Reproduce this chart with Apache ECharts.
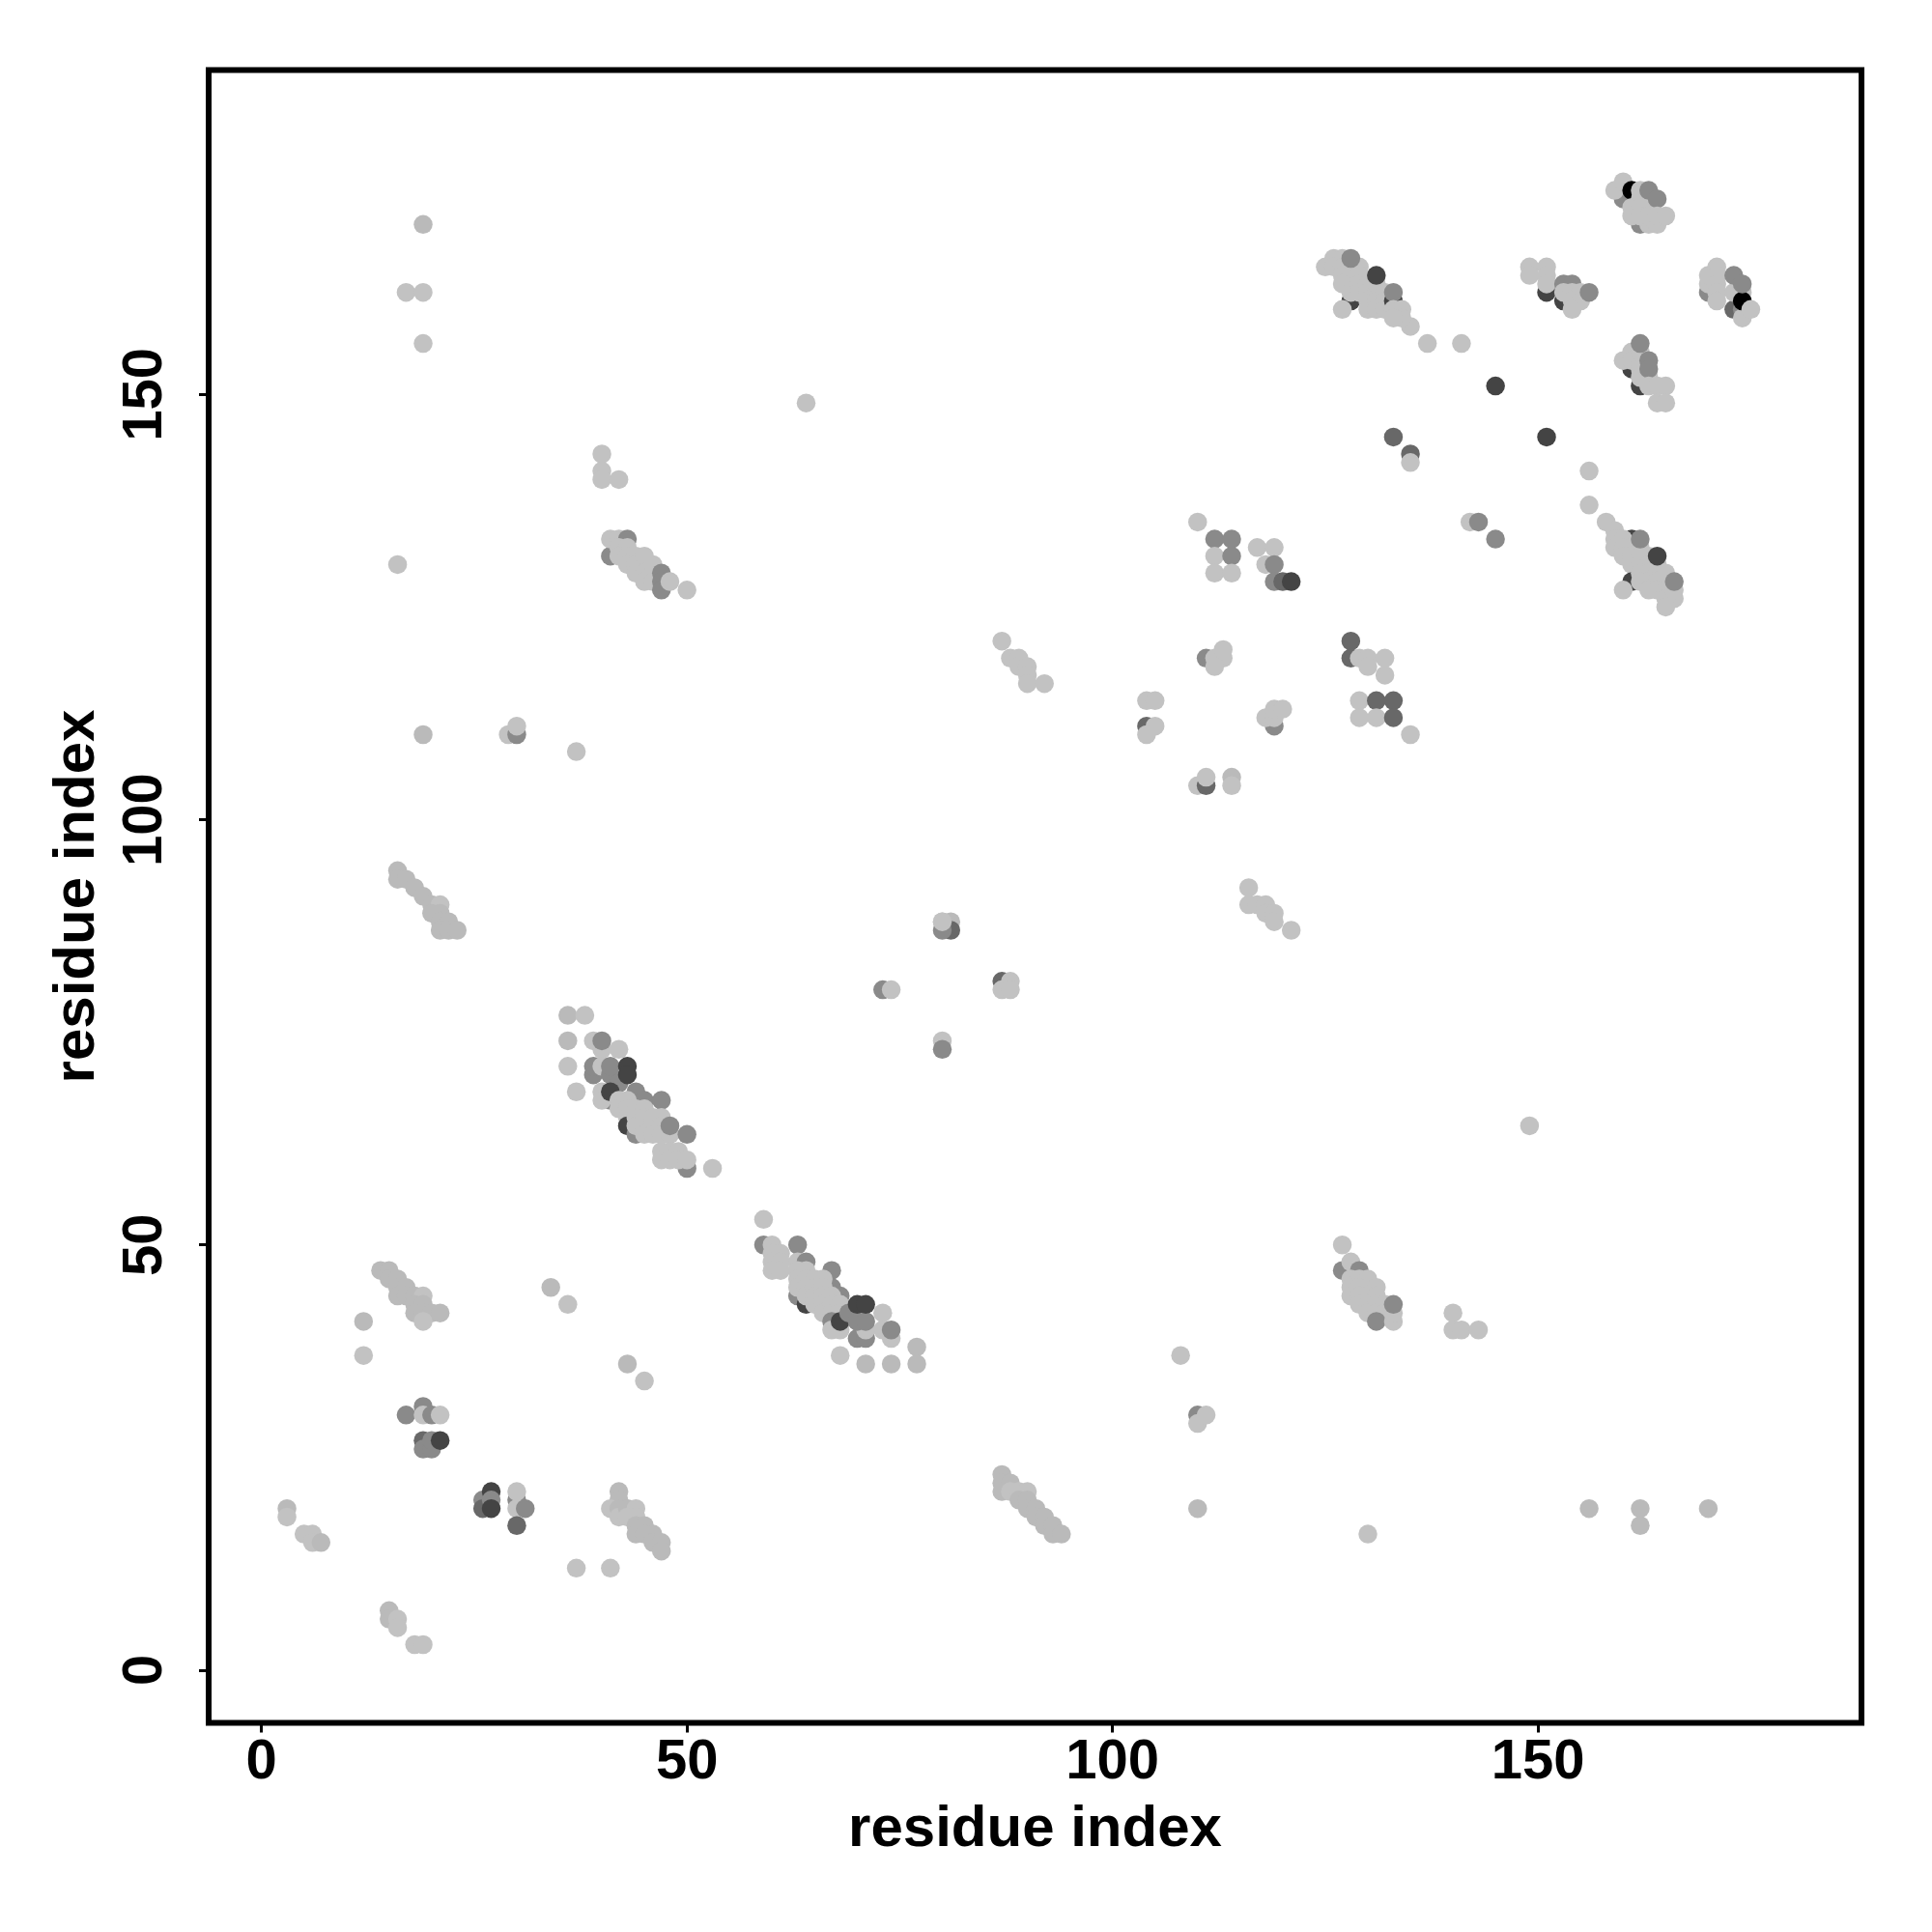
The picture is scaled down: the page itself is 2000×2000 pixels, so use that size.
<!DOCTYPE html>
<html><head><meta charset="utf-8">
<style>html,body{margin:0;padding:0;background:#fff}#c{width:2000px;height:2000px}</style>
<script src="https://cdn.jsdelivr.net/npm/echarts@6/dist/echarts.min.js"></script>
</head><body><div id="c"></div>
<script>
const tickValues = [0, 50, 100, 150];
const axisTitle = "residue index";
// each point: [residue x, residue y, grey level]
const L = 194, K = 186, M = 138, D = 104, E = 68, B = 0;
const lowerLeft = [[15,7,K],[15,6,K],[16,6,L],[16,5,L],[18,3,L],[19,3,L],[37,12,L],[41,12,L],
 [3,19,K],[3,18,L],[5,16,L],[6,16,L],[6,15,L],[7,15,K],
 [26,20,M],[26,19,D],[27,21,E],[27,20,M],[27,19,E],[30,20,M],[30,19,L],[31,19,M],[30,21,L],[30,17,D],
 [17,30,M],[19,31,M],[19,30,L],[20,30,M],[21,30,L],[19,27,D],[19,26,M],[20,26,M],[20,27,M],[21,27,E],
 [14,47,K],[15,47,K],[15,46,K],[16,46,K],[16,45,K],[17,45,K],[16,44,K],[17,44,K],[18,44,K],[19,44,L],[18,43,K],[19,43,K],[18,42,K],[19,42,K],[20,42,K],[21,42,K],[19,41,L],
 [12,41,K],[12,37,L],[34,45,K],[36,43,L],[43,36,K],[45,34,L],
 [42,21,K],[42,20,K],[41,19,L],[42,19,K],[42,18,L],[43,19,K],[44,19,L],[44,18,L],[43,18,L],[44,17,K],[45,17,K],[44,16,K],[45,16,K],[46,16,K],[46,15,K],[47,15,K],[47,14,K],
 [87,23,K],[87,22,K],[87,21,K],[88,22,K],[88,21,L],[89,21,L],[90,21,L],[89,20,K],[90,20,K],[90,19,K],[91,19,K],[91,18,K],[92,18,K],[92,17,K],[93,17,K],[93,16,K],[94,16,K],
 [108,37,L],[110,30,M],[110,29,L],[111,30,L],[110,19,K],[156,19,K],[162,19,K],[162,17,K],[170,19,K],[130,16,L]];
const clusterA = [[59,53,L],[59,50,M],[63,50,M],[60,50,L],[60,49,L],[61,49,L],[60,48,L],[61,48,L],[60,47,L],[61,47,L],
 [63,48,L],[64,48,M],[67,47,M],[67,45,M],[68,44,M],[63,44,M],[64,43,E],[63,47,L],[63,46,L],[63,45,L],[64,47,L],[64,46,L],[64,45,L],[64,44,L],[65,46,L],[65,45,L],[65,44,L],[65,43,L],[66,46,L],[66,45,L],[66,44,L],[66,43,L],[66,42,L],[67,44,L],[67,43,L],[67,42,L],[68,43,L],[68,42,L],
 [67,41,M],[67,40,L],[68,40,L],[68,41,E],[73,42,L],[73,40,L],[74,39,L],[74,40,M],[70,39,M],[71,39,M],[71,40,L],[69,42,M],[70,41,M],[71,41,M],[70,43,E],[71,43,E],[77,38,K],[77,36,K],[74,36,K],[71,36,K],[68,37,L]];
const clusterB = [[36,77,K],[38,77,L],[36,74,K],[39,74,L],[40,73,L],[40,74,M],[42,73,L],[36,71,L],[37,68,L],[39,70,M],[39,71,M],[40,71,L],[41,70,M],[41,71,M],[42,69,M],[43,71,E],[43,70,E],
 [44,68,M],[45,67,M],[47,67,M],[41,67,M],[40,68,L],[40,67,L],[41,68,E],[42,67,L],[42,66,L],[43,67,L],[43,66,L],[43,65,L],[44,66,L],
 [43,64,E],[44,63,M],[44,65,L],[44,64,L],[45,66,L],[45,65,L],[45,64,L],[45,63,L],[46,65,L],[46,64,L],[46,63,L],[47,65,L],[47,64,L],[47,63,L],[48,63,L],[48,64,M],[50,63,M],[50,59,M],
 [47,61,L],[47,60,L],[48,61,L],[48,60,L],[49,61,L],[49,60,L],[50,60,L],[53,59,L]];
const clusterC = [[16,130,L],[19,110,K],[29,110,L],[30,110,M],[30,111,L],[37,108,L],[19,170,K],[17,162,L],[19,162,L],[19,156,L],[64,149,L],
 [16,94,K],[16,93,K],[17,93,K],[18,92,K],[19,91,K],[20,90,K],[21,90,L],[21,89,K],[20,89,K],[21,88,K],[22,88,K],[21,87,K],[22,87,K],[23,87,K],
 [40,143,L],[40,141,L],[40,140,L],[42,140,L],
 [41,131,M],[41,133,L],[42,133,L],[43,133,M],[42,132,L],[43,132,L],[42,131,L],[43,131,L],[44,131,L],[43,130,L],[44,130,L],[45,130,L],[45,131,L],[44,129,L],[45,129,L],[46,129,L],[46,130,L],[45,128,L],[46,128,L],[47,129,M],[47,128,M],[47,127,M],[48,128,L],[50,127,L],
 [80,88,L],[81,88,K],[81,87,D],[80,87,M],[80,88,L],[73,80,M],[74,80,L],[87,81,D],[88,81,L],[87,80,L],[88,80,L],[80,74,L],[80,73,M]];
const clusterD = [[87,121,L],[88,119,L],[89,119,L],[89,118,L],[90,118,L],[90,117,L],[90,116,L],[92,116,L],
 [104,114,L],[105,114,L],[104,111,D],[105,111,L],[104,110,L],[110,104,L],[111,104,D],[111,105,L],[114,105,K],[114,104,L],
 [111,119,M],[112,119,L],[113,119,L],[113,120,L],[112,118,L],[110,135,L],[112,133,M],[114,133,M],[112,131,L],[114,131,M],[112,129,L],[114,129,L],
 [117,132,L],[119,132,L],[118,130,L],[119,130,M],[119,128,M],[120,128,D],[121,128,E],
 [119,111,M],[118,112,L],[119,112,L],[119,113,L],[120,113,L],[116,92,L],[116,90,L],[117,90,L],[118,90,L],[118,89,L],[119,89,L],[119,88,L],[121,87,L],
 [128,121,D],[128,119,D],[129,119,L],[130,119,L],[130,118,L],[132,119,L],[132,117,L],[129,114,L],[129,112,L],[131,114,D],[133,114,D],[131,112,L],[133,112,D],[135,110,L],
 [133,145,D],[135,143,D],[135,142,L],[145,151,E],[151,145,E],[156,141,L],[156,137,L],[142,135,L],[143,135,M],[145,133,M],[149,64,L],
 [127,50,L],[127,47,M],[128,48,L],[129,47,M],[128,46,L],[129,46,L],[130,46,L],[128,45,L],[129,45,L],[130,45,L],[131,45,L],[128,44,L],[129,44,L],[130,44,L],[131,44,L],[129,43,L],[130,43,L],[131,43,L],[132,43,L],[130,42,L],[131,42,L],[132,42,L],[131,41,M],[133,41,L],[133,42,L],[133,43,M],
 [140,42,L],[140,40,L],[141,40,L],[143,40,L]];
const clusterE = [[158,135,L],[159,134,L],[159,133,L],[161,133,E],[159,132,L],[160,133,L],[160,132,L],[161,132,L],[160,131,L],[161,131,L],[162,132,L],[162,131,L],[161,130,L],[162,130,L],[163,131,L],[163,130,L],
 [161,128,E],[160,127,L],[162,129,L],[163,129,L],[164,130,L],[164,129,L],[162,128,L],[163,128,L],[164,128,L],[165,129,L],[165,128,L],[163,127,L],[164,127,L],[165,127,L],[165,126,L],[166,126,L],[166,127,L],[165,125,L],[162,133,M],[164,131,E],[166,128,M]];
const clusterF = [[128,161,E],[127,160,L],[125,165,L],[126,166,L],[127,166,L],[126,165,L],[127,165,L],[127,164,L],[128,165,L],[128,164,L],[128,163,L],[127,163,L],[128,162,L],[129,165,L],[129,164,L],[129,163,L],[129,162,L],[130,163,L],[130,162,L],[130,161,L],[130,160,L],[131,162,L],[131,161,L],[131,160,L],[131,163,L],[132,162,L],[132,161,L],[132,160,L],[133,161,E],[133,162,M],[133,160,L],[134,160,L],[135,158,L],[134,159,L],[133,159,L],[128,166,M],[131,164,E],[137,156,L],[141,156,L]];
const clusterG = [[149,165,L],[149,164,L],[151,162,E],[151,165,L],[151,164,L],[151,163,L],[153,161,E],[153,163,M],[154,163,M],[153,162,L],[154,162,L],[155,162,L],[154,161,L],[155,161,L],[154,160,L],[156,162,M]];
const clusterH = [[160,174,M],[160,173,M],[159,174,L],[160,175,L],[161,174,B],[162,174,L],[162,173,L],[163,173,L],[163,174,M],[164,173,M],
 [162,170,M],[163,170,L],[164,170,L],[161,172,L],[162,172,L],[161,171,L],[162,171,L],[163,171,L],[164,171,L],[165,171,L],
 [170,162,M],[170,163,L],[170,164,L],[171,165,L],[171,164,L],[171,163,L],[171,162,L],[171,161,L],[173,160,D],[174,160,M],[174,159,L],[173,162,L],[174,162,L],[174,161,B],[173,164,M],[174,163,M],[175,160,L],
 [162,151,E],[161,153,E],[160,154,L],[161,155,L],[161,154,L],[162,154,L],[162,153,L],[162,152,L],[162,155,L],[163,152,L],[162,156,M],[163,154,M],[163,153,M],[163,151,L],[164,151,L],[165,151,L],[164,149,L],[165,149,L]];

const points = [].concat(lowerLeft, clusterA, clusterB, clusterC, clusterD, clusterE, clusterF, clusterG, clusterH);
const font = "Liberation Sans";
function axis(maxVal, rotate, margin, nameGap){
  return {
    type: "value", min: -6.2, max: maxVal, splitLine: {show: false}, axisLine: {show: false, onZero: false},
    name: axisTitle, nameLocation: "middle", nameGap,
    nameTextStyle: {fontFamily: font, fontWeight: "bold", fontSize: 60, color: "#000"},
    axisTick: {show: true, length: 10, customValues: tickValues, lineStyle: {color: "#000", width: 3}},
    axisLabel: {show: true, rotate, margin, customValues: tickValues, fontFamily: font, fontWeight: "bold", fontSize: 58, color: "#000", showMinLabel: true, showMaxLabel: true}
  };
}
const chart = echarts.init(document.getElementById("c"), null, {renderer: "canvas"});
chart.setOption({
  animation: false, backgroundColor: "#fff",
  grid: {left: 216, top: 72.5, width: 1711, height: 1711, show: true, borderWidth: 6, borderColor: "#000", backgroundColor: "transparent"},
  xAxis: axis(188.0, 0, 12, 81),
  yAxis: axis(188.15, 90, 36, 106),
  series: [{
    type: "scatter", symbol: "circle", symbolSize: 19.5, large: false,
    itemStyle: {opacity: 1},
    data: points.map(p => ({value: [p[0], p[1]], itemStyle: {color: `rgb(${p[2]},${p[2]},${p[2]})`, opacity: 1}}))
  }]
});
</script></body></html>
